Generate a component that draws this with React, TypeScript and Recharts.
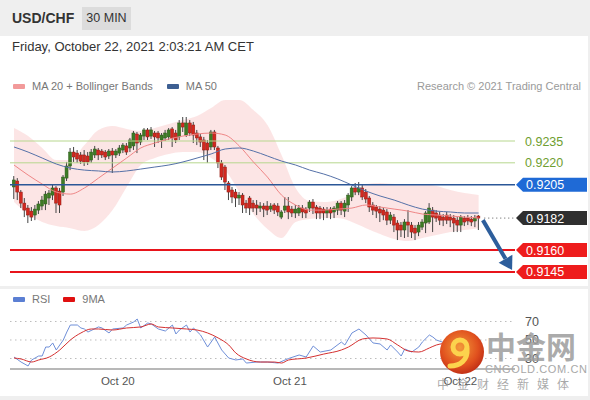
import React from 'react';
import { ComposedChart, LineChart, Bar, Line, Area, XAxis, YAxis, ReferenceLine } from 'recharts';

// 30 min candles, index 0..132
const open = [
  0.92034, 0.92075, 0.91999, 0.91923, 0.91889, 0.91868, 0.91841, 0.91875, 0.91903, 0.91917,
  0.91958, 0.91978, 0.92027, 0.92006, 0.91999, 0.92095, 0.92178, 0.92274, 0.92267, 0.92254,
  0.92254, 0.92247, 0.92219, 0.92254, 0.92288, 0.92281, 0.92274, 0.92247, 0.92281, 0.92254,
  0.92267, 0.92288, 0.92316, 0.92302, 0.92316, 0.92398, 0.92343, 0.92384, 0.92426, 0.92384,
  0.92405, 0.92405, 0.92357, 0.92371, 0.92378, 0.92433, 0.92405, 0.92378, 0.92474, 0.92391,
  0.92474, 0.9246, 0.92405, 0.92378, 0.92357, 0.92336, 0.92309, 0.92412, 0.92302, 0.92199,
  0.92171, 0.92061, 0.92013, 0.91999, 0.91958, 0.91978, 0.91923, 0.91958, 0.91923, 0.9191,
  0.91889, 0.91903, 0.91903, 0.91882, 0.9191, 0.91903, 0.91827, 0.91875, 0.91903, 0.91882,
  0.91855, 0.91855, 0.91889, 0.91882, 0.91889, 0.9193, 0.91896, 0.91889, 0.91882, 0.91855,
  0.91882, 0.91862, 0.91875, 0.91923, 0.91868, 0.9191, 0.91965, 0.92027, 0.91999, 0.92027,
  0.91999, 0.91958, 0.9191, 0.91896, 0.91882, 0.91875, 0.91862, 0.91806, 0.91827, 0.91786,
  0.91772, 0.91738, 0.91793, 0.91772, 0.91751, 0.91724, 0.91758, 0.91786, 0.91793, 0.91875,
  0.91855, 0.91841, 0.91827, 0.91841, 0.91827, 0.9182, 0.91806, 0.91772, 0.9182, 0.9182,
  0.91813, 0.918, 0.91834,
];
const high = [
  0.92109, 0.92095, 0.92013, 0.91958, 0.9191, 0.91896, 0.9191, 0.91937, 0.91972, 0.92006,
  0.92013, 0.92054, 0.9204, 0.92027, 0.92116, 0.92206, 0.92302, 0.92309, 0.92288, 0.92274,
  0.92288, 0.92274, 0.92295, 0.92316, 0.92302, 0.92295, 0.92288, 0.92295, 0.92302, 0.92295,
  0.92322, 0.92336, 0.92336, 0.92371, 0.92419, 0.92412, 0.92405, 0.92439, 0.92439, 0.92446,
  0.92419, 0.92419, 0.92405, 0.92426, 0.92439, 0.92446, 0.92426, 0.92494, 0.92515, 0.92515,
  0.92494, 0.92481, 0.92426, 0.92398, 0.92378, 0.92357, 0.92426, 0.92426, 0.92316, 0.92219,
  0.92185, 0.92075, 0.92034, 0.9202, 0.91999, 0.91992, 0.91944, 0.91972, 0.91944, 0.91944,
  0.9193, 0.91923, 0.91937, 0.91923, 0.91923, 0.91923, 0.91875, 0.91965, 0.91965, 0.91903,
  0.9191, 0.9191, 0.9191, 0.91896, 0.91944, 0.91951, 0.9191, 0.91903, 0.91896, 0.91896,
  0.91896, 0.91903, 0.91937, 0.91937, 0.91944, 0.91992, 0.9204, 0.92061, 0.92068, 0.92047,
  0.9202, 0.91972, 0.9193, 0.9191, 0.91903, 0.91896, 0.91882, 0.91862, 0.91848, 0.91806,
  0.91793, 0.91813, 0.91875, 0.91793, 0.91772, 0.91793, 0.91813, 0.91868, 0.91923, 0.91896,
  0.91875, 0.91862, 0.91848, 0.91862, 0.91848, 0.91841, 0.91827, 0.91841, 0.91834, 0.91841,
  0.91834, 0.91841, 0.91841,
];
const low = [
  0.91951, 0.91944, 0.91889, 0.91827, 0.91786, 0.918, 0.91806, 0.91848, 0.91875, 0.91875,
  0.9191, 0.91944, 0.91855, 0.91855, 0.91972, 0.92075, 0.9215, 0.92206, 0.92199, 0.92192,
  0.92178, 0.92185, 0.92199, 0.92233, 0.92219, 0.92233, 0.92219, 0.92226, 0.9213, 0.92233,
  0.92247, 0.92267, 0.92254, 0.92274, 0.92288, 0.92267, 0.92322, 0.92357, 0.92357, 0.92364,
  0.92309, 0.92336, 0.92302, 0.9235, 0.92357, 0.92309, 0.92336, 0.92357, 0.92412, 0.92378,
  0.92384, 0.92336, 0.92322, 0.92309, 0.92219, 0.92199, 0.92288, 0.92288, 0.92164, 0.92082,
  0.92013, 0.91944, 0.91923, 0.91896, 0.9191, 0.91855, 0.91855, 0.91841, 0.91862, 0.91841,
  0.91862, 0.91827, 0.91841, 0.91862, 0.91848, 0.91834, 0.91813, 0.91855, 0.91813, 0.91827,
  0.9182, 0.91834, 0.9182, 0.9182, 0.91862, 0.91848, 0.91813, 0.91813, 0.91806, 0.9182,
  0.91813, 0.9182, 0.91841, 0.91841, 0.91827, 0.91862, 0.91937, 0.91978, 0.91978, 0.91944,
  0.91923, 0.91862, 0.91841, 0.9182, 0.91793, 0.91806, 0.91772, 0.91779, 0.91724, 0.91669,
  0.9169, 0.91683, 0.9169, 0.91683, 0.91669, 0.91696, 0.91738, 0.91717, 0.91779, 0.91724,
  0.91793, 0.91772, 0.91765, 0.91779, 0.91758, 0.91724, 0.91724, 0.91724, 0.91765, 0.91772,
  0.91765, 0.91758, 0.91738,
];
const close = [
  0.92082, 0.91999, 0.91923, 0.91875, 0.91841, 0.91827, 0.91882, 0.91917, 0.91944, 0.91985,
  0.91992, 0.92027, 0.91923, 0.9191, 0.92102, 0.92178, 0.92274, 0.9224, 0.92226, 0.92212,
  0.92206, 0.92206, 0.92274, 0.92295, 0.92254, 0.92254, 0.9224, 0.92281, 0.92254, 0.92281,
  0.92302, 0.92322, 0.92274, 0.92357, 0.92405, 0.92336, 0.92391, 0.92426, 0.92378, 0.92426,
  0.92378, 0.92371, 0.92391, 0.92405, 0.92426, 0.92371, 0.92357, 0.92474, 0.92446, 0.92474,
  0.92405, 0.92391, 0.92371, 0.92343, 0.92288, 0.92288, 0.92412, 0.92309, 0.92199, 0.92102,
  0.92068, 0.91999, 0.91965, 0.91958, 0.91978, 0.9191, 0.91889, 0.91889, 0.91889, 0.91889,
  0.91903, 0.91882, 0.91875, 0.91903, 0.91875, 0.91862, 0.91862, 0.91903, 0.91862, 0.91855,
  0.91882, 0.91889, 0.91862, 0.91855, 0.9193, 0.91889, 0.91855, 0.91855, 0.91855, 0.91875,
  0.91855, 0.91889, 0.91923, 0.91875, 0.91923, 0.91978, 0.92027, 0.91999, 0.92027, 0.91965,
  0.91951, 0.91896, 0.91875, 0.91868, 0.91855, 0.91841, 0.91806, 0.91841, 0.91772, 0.91738,
  0.91738, 0.91793, 0.91772, 0.91724, 0.91717, 0.91772, 0.91793, 0.91855, 0.91889, 0.91827,
  0.9182, 0.91806, 0.91806, 0.91806, 0.91806, 0.91786, 0.91772, 0.91827, 0.91793, 0.918,
  0.91793, 0.9182, 0.9182,
];

// indicators, read every 4 candles
const indIdx = [0, 4, 8, 12, 16, 20, 24, 28, 32, 36, 40, 44, 48, 52, 56, 60, 64, 68, 72, 76, 80, 84, 88, 92, 96, 100, 104, 108, 112, 116, 120, 124, 128, 132];
const bbUpper = [
  0.92439, 0.92384, 0.92302, 0.92219, 0.92219, 0.92322, 0.92426, 0.92453, 0.92433, 0.92419,
  0.92439, 0.92467, 0.92494, 0.92522, 0.92577, 0.92632, 0.92632, 0.92563, 0.9246, 0.92254,
  0.92027, 0.91937, 0.9193, 0.91944, 0.91985, 0.92054, 0.92061, 0.92054, 0.92054, 0.92054,
  0.9204, 0.92013, 0.91992, 0.91978,
];
const bbLower = [
  0.9193, 0.91848, 0.91793, 0.91765, 0.91751, 0.91731, 0.91772, 0.91875, 0.92034, 0.92185,
  0.92233, 0.92261, 0.92274, 0.92274, 0.92233, 0.9215, 0.91999, 0.91848, 0.91745, 0.91683,
  0.91793, 0.91813, 0.9182, 0.9182, 0.91793, 0.91751, 0.9171, 0.91676, 0.91662, 0.91683,
  0.91703, 0.91724, 0.91738, 0.91751,
];
const ma20 = [
  0.92185, 0.92116, 0.92054, 0.91999, 0.91985, 0.92027, 0.92095, 0.92164, 0.92233, 0.92302,
  0.92336, 0.92364, 0.92384, 0.92398, 0.92405, 0.92391, 0.92316, 0.92206, 0.92102, 0.91978,
  0.9191, 0.91875, 0.91875, 0.91882, 0.91889, 0.9191, 0.91896, 0.91882, 0.91868, 0.91848,
  0.91841, 0.91834, 0.91827, 0.9182,
];
const ma50 = [
  0.92309, 0.92274, 0.92233, 0.92192, 0.92164, 0.9215, 0.92144, 0.92137, 0.92144, 0.92157,
  0.92171, 0.92185, 0.92206, 0.92233, 0.92261, 0.92295, 0.92302, 0.92281, 0.92247, 0.92212,
  0.92185, 0.9215, 0.92123, 0.92089, 0.92047, 0.92006, 0.91972, 0.91944, 0.9191, 0.91882,
  0.91868, 0.91862, 0.91855, 0.91855,
];

// RSI panel
const rsiIdx = [0, 2, 4, 5, 7, 8, 9, 10, 11, 12, 14, 15, 16, 18, 19, 20, 21, 24, 25, 27, 28, 31, 32, 34, 35, 36, 38, 39, 41, 43, 45, 46, 47, 49, 50, 51, 53, 55, 57, 59, 61, 63, 65, 66, 69, 72, 75, 77, 78, 81, 83, 85, 87, 90, 93, 94, 96, 98, 100, 102, 104, 106, 107, 109, 110, 111, 113, 115, 116, 118, 119, 120, 123, 126, 129, 132];
const rsiVal = [31.6, 26.2, 21.9, 28.4, 32.7, 32.7, 42.4, 42.4, 46.8, 39.2, 50, 58.6, 66.2, 66.2, 63, 61.9, 58.6, 64.1, 63, 57.6, 61.9, 63, 66.2, 69.5, 72.7, 63, 68.4, 67.3, 61.9, 59.7, 66.2, 56.5, 60.8, 66.2, 58.6, 63, 55.4, 42.4, 53.2, 39.2, 30.5, 28.4, 29.5, 25.1, 26.2, 26.2, 25.1, 28.4, 30, 33.8, 31.6, 43.5, 37, 39.2, 47.8, 44.6, 57.6, 61.9, 55.4, 46.8, 45.7, 39.2, 44.6, 37, 32.7, 40.3, 37, 42.4, 47.8, 55.4, 53.2, 50, 46, 43, 47, 45];
const rsiMaIdx = [0, 2, 5, 7, 10, 13, 16, 19, 22, 24, 28, 32, 36, 39, 41, 45, 49, 52, 55, 58, 61, 63, 66, 70, 74, 76, 78, 83, 88, 93, 95, 99, 102, 106, 109, 112, 115, 118, 120, 124, 128, 132];
const rsiMaVal = [30.5, 29.5, 26.2, 28.4, 31.6, 39.2, 50, 57.6, 61.9, 61.9, 60.8, 63, 64.1, 67.3, 64.1, 63, 61.9, 60.8, 57.6, 52.2, 44.6, 36, 29.5, 26.2, 26.2, 25.1, 28.4, 30.5, 34.8, 39.2, 42.4, 51.1, 52.2, 51.1, 44.6, 38.1, 37, 41.4, 44.6, 47, 48, 47];

const tickPos = [29.5, 78.4, 126.8];
const tickLabels = ['Oct 20', 'Oct 21', 'Oct 22'];

const candles = open.map((o, i) => ({
  i, open: o, high: high[i], low: low[i], close: close[i], range: [low[i], high[i]],
}));
const indicators = indIdx.map((i, k) => ({ i, band: [bbLower[k], bbUpper[k]], ma20: ma20[k], ma50: ma50[k] }));
const rsiData = rsiIdx.map((i, k) => ({ i, rsi: rsiVal[k] }));
const rsiMaData = rsiMaIdx.map((i, k) => ({ i, ma: rsiMaVal[k] }));

const X_DOMAIN = [-1.14, 142.33];
const FONT = '"Liberation Sans", Arial, sans-serif';

const Candle = (props: any) => {
  const { x, y, width, height, payload } = props;
  if (height == null || !payload) return null;
  const { open: o, close: c, high: h, low: l } = payload;
  const cx = x + width / 2;
  const k = height / (h - l || 1);
  const yO = y + (h - o) * k;
  const yC = y + (h - c) * k;
  const up = c >= o;
  const top = Math.min(yO, yC);
  const bh = Math.max(Math.abs(yC - yO), 1);
  return (
    <g>
      <line x1={cx} x2={cx} y1={y} y2={y + height} stroke="#444" strokeWidth={1} />
      <rect x={cx - 1.5} y={top} width={3} height={bh} fill={up ? '#3d7b25' : '#d2281f'} stroke={up ? '#2b5a19' : '#8f1c15'} strokeWidth={0.5} />
    </g>
  );
};

const pill = (text: string, bg: string) => (props: any) => {
  const { viewBox } = props;
  const x = viewBox.x + viewBox.width + 1;
  const y = viewBox.y;
  return (
    <g>
      <path d={`M${x},${y} L${x + 7},${y - 7} L${x + 71},${y - 7} L${x + 71},${y + 7} L${x + 7},${y + 7} Z`} fill={bg} />
      <text x={x + 10} y={y + 4.5} fill="#fff" fontSize={12.5} fontFamily={FONT}>{text}</text>
    </g>
  );
};

const plainLabel = (text: string, color: string) => (props: any) => {
  const { viewBox } = props;
  return (
    <text x={viewBox.x + viewBox.width + 10} y={viewBox.y + 4.5} fill={color} fontSize={12.5} fontFamily={FONT}>{text}</text>
  );
};

const Arrow = (props: any) => {
  const { x1, y1, x2, y2 } = props;
  const dx = x2 - x1;
  const dy = y2 - y1;
  const len = Math.sqrt(dx * dx + dy * dy) || 1;
  const ux = dx / len;
  const uy = dy / len;
  const bx = x2 - ux * 13;
  const by = y2 - uy * 13;
  return (
    <g>
      <line x1={x1} y1={y1} x2={bx} y2={by} stroke="#2d5e9c" strokeWidth={4} />
      <polygon points={`${x2},${y2} ${bx - uy * 8},${by + ux * 8} ${bx + uy * 8},${by - ux * 8}`} fill="#2d5e9c" />
    </g>
  );
};

const Watermark = () => (
  <svg width={590} height={400} style={{ position: 'absolute', left: 0, top: 0, pointerEvents: 'none' }}>
    <defs>
      <radialGradient id="wmg" cx="45%" cy="40%" r="60%">
        <stop offset="0%" stopColor="#f39a3a" />
        <stop offset="70%" stopColor="#e0501e" />
        <stop offset="100%" stopColor="#c23116" />
      </radialGradient>
    </defs>
    <circle cx={462} cy={352} r={22} fill="url(#wmg)" />
    <circle cx={460} cy={347} r={7} fill="none" stroke="#fcd34d" strokeWidth={5} />
    <path d="M467,349 C468,360 460,366 450,366" fill="none" stroke="#fcd34d" strokeWidth={5} strokeLinecap="round" />
    <text x={486} y={358} fontSize={30} fontWeight="bold" fill="#9c9c9c" fillOpacity={0.85} fontFamily='"Noto Sans CJK SC", sans-serif'>中金网</text>
    <text x={485} y={373} fontSize={11} fill="#a8a8a8" letterSpacing={0.6} fontFamily={FONT}>CNGOLD.COM.CN</text>
    <text x={437} y={389} fontSize={12} fill="#9a9a9a" fillOpacity={0.85} letterSpacing={8} fontFamily='"Noto Sans CJK SC", sans-serif'>中金财经新媒体</text>
  </svg>
);

export default function App() {
  return (
    <div style={{ position: 'absolute', left: 0, top: 0, width: 590, height: 400, background: '#efefef', overflow: 'hidden', fontFamily: FONT, color: '#333' }}>
      <div style={{ position: 'absolute', left: 12, top: 9, fontSize: 14, fontWeight: 'bold', lineHeight: '18px' }}>USD/CHF</div>
      <div style={{ position: 'absolute', left: 82, top: 7, width: 49, height: 23, background: '#dcdcdc', fontSize: 12.5, lineHeight: '23px', textAlign: 'center' }}>30 MIN</div>

      <div style={{ position: 'absolute', left: 0, top: 36, width: 588, height: 250, background: '#fff' }} />
      <div style={{ position: 'absolute', left: 0, top: 289, width: 588, height: 107, background: '#fff' }} />

      <div style={{ position: 'absolute', left: 12, top: 39, fontSize: 13, lineHeight: '16px', color: '#333' }}>
        Friday, October 22, 2021 2:03:21 AM CET
      </div>

      <div style={{ position: 'absolute', left: 13, top: 79, fontSize: 11, lineHeight: '14px', color: '#777', display: 'flex', alignItems: 'center' }}>
        <span style={{ display: 'inline-block', width: 12, height: 5, background: '#f29a9a', borderRadius: 1, marginRight: 7 }} />
        <span>MA 20 + Bollinger Bands</span>
        <span style={{ display: 'inline-block', width: 12, height: 5, background: '#3d5f92', borderRadius: 1, marginLeft: 14, marginRight: 7 }} />
        <span>MA 50</span>
      </div>
      <div style={{ position: 'absolute', right: 9, top: 79, fontSize: 11, lineHeight: '14px', color: '#9a9a9a' }}>
        Research © 2021 Trading Central
      </div>

      <div style={{ position: 'absolute', left: 13, top: 292, fontSize: 11, lineHeight: '14px', color: '#777', display: 'flex', alignItems: 'center' }}>
        <span style={{ display: 'inline-block', width: 12, height: 5, background: '#5b7fd3', borderRadius: 1, marginRight: 7 }} />
        <span>RSI</span>
        <span style={{ display: 'inline-block', width: 12, height: 5, background: '#e01010', borderRadius: 1, marginLeft: 13, marginRight: 7 }} />
        <span>9MA</span>
      </div>

      <div style={{ position: 'absolute', left: 0, top: 95 }}>
        <ComposedChart width={590} height={190} data={candles} margin={{ top: 0, right: 75, bottom: 0, left: 10 }}>
          <XAxis dataKey="i" type="number" domain={X_DOMAIN} allowDataOverflow hide />
          <YAxis type="number" domain={[0.9136, 0.926663]} allowDataOverflow hide />
          <Area data={indicators} dataKey="band" type="monotone" fill="#f9cfcf" fillOpacity={0.55} stroke="none" isAnimationActive={false} />
          <ReferenceLine y={0.9235} stroke="#b7d78e" strokeWidth={1} label={plainLabel('0.9235', '#6f9e30')} />
          <ReferenceLine y={0.922} stroke="#b7d78e" strokeWidth={1} label={plainLabel('0.9220', '#6f9e30')} />
          <Line data={indicators} dataKey="ma20" type="monotone" stroke="#ef8686" strokeWidth={1} dot={false} isAnimationActive={false} />
          <Line data={indicators} dataKey="ma50" type="monotone" stroke="#5571a8" strokeWidth={1} dot={false} isAnimationActive={false} />
          <Bar dataKey="range" barSize={3} shape={<Candle />} isAnimationActive={false} />
          <ReferenceLine y={0.9205} stroke="#2b5797" strokeWidth={1.5} label={pill('0.9205', '#1f6ad6')} />
          <ReferenceLine y={0.916} stroke="#e8141b" strokeWidth={2} label={pill('0.9160', '#ee1c1c')} />
          <ReferenceLine y={0.9145} stroke="#e8141b" strokeWidth={2} label={pill('0.9145', '#ee1c1c')} />
          <ReferenceLine y={0.9182} strokeOpacity={0} label={pill('0.9182', '#2f2f2f')} />
          <ReferenceLine segment={[{ x: 133.6, y: 0.9182 }, { x: 142.2, y: 0.9182 }]} stroke="#555" strokeDasharray="1 3" ifOverflow="visible" />
          <ReferenceLine segment={[{ x: 133.2, y: 0.91806 }, { x: 141.5, y: 0.91463 }]} shape={Arrow} ifOverflow="visible" />
        </ComposedChart>
      </div>

      <div style={{ position: 'absolute', left: 0, top: 310 }}>
        <LineChart width={590} height={89} margin={{ top: 0, right: 75, bottom: 0, left: 10 }}>
          <XAxis dataKey="i" type="number" domain={X_DOMAIN} allowDataOverflow ticks={tickPos}
            tickFormatter={(v: number) => tickLabels[tickPos.indexOf(v)]}
            tick={{ fill: '#555', fontSize: 11.5, fontFamily: FONT }} tickLine={false}
            axisLine={{ stroke: '#a0a0a0', strokeWidth: 1.5 }} height={30} />
          <YAxis type="number" domain={[18.65, 82.43]} allowDataOverflow hide />
          <ReferenceLine y={70} stroke="#bdbdbd" strokeDasharray="1.5 3.5" label={plainLabel('70', '#555')} />
          <ReferenceLine y={50} stroke="#bdbdbd" strokeDasharray="1.5 3.5" label={plainLabel('50', '#555')} />
          <ReferenceLine y={30} stroke="#bdbdbd" strokeDasharray="1.5 3.5" label={plainLabel('30', '#555')} />
          <Line data={rsiData} dataKey="rsi" type="linear" stroke="#6f8fd8" strokeWidth={1} dot={false} isAnimationActive={false} />
          <Line data={rsiMaData} dataKey="ma" type="monotone" stroke="#d43030" strokeWidth={1} dot={false} isAnimationActive={false} />
        </LineChart>
      </div>

      <Watermark />
    </div>
  );
}
